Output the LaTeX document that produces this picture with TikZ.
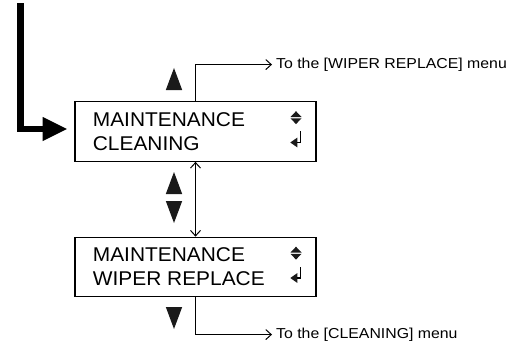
\documentclass[tikz,border=0pt]{standalone}
\usepackage{fontspec}
\setmainfont{Liberation Sans}
\newfontfamily\panelfont[FakeStretch=1.05]{Liberation Sans}
\newfontfamily\labelfont[FakeStretch=1.1]{Liberation Sans}
\usetikzlibrary{calc,arrows.meta,positioning}
\definecolor{KeyBlack}{HTML}{1A1A1A}

\begin{document}
\begin{tikzpicture}[x=1pt,y=-1pt,line cap=butt,line join=miter,
  menubox/.style={draw,line width=1.2pt,minimum width=241pt,minimum height=59.5pt,inner sep=0pt},
  panel/.style={anchor=base west,inner sep=0pt,font=\panelfont\fontsize{19.9}{24}\selectfont},
  tolabel/.style={anchor=base west,inner xsep=4pt,inner ysep=0pt,font=\labelfont\fontsize{14.4}{17}\selectfont},
  link/.style={line width=1pt,-{Straight Barb[length=5.5pt,width=10pt]}}]
  \useasboundingbox (0,0) rectangle (522,345);
  % menu boxes
  \node[menubox] (cln) at (195.5,131.5) {};
  \node[menubox] (wip) at (195.5,267) {};
  \node[panel] (cln1) at (92.7,126) {MAINTENANCE};
  \node[panel] (cln2) at (92.7,150) {CLEANING};
  \node[panel] (wip1) at (92.7,261.5) {MAINTENANCE};
  \node[panel] (wip2) at (92.7,285.5) {WIPER REPLACE};
  % up/down and enter marks
  \foreach \dy in {0,135.5}{
    \fill[KeyBlack] (290.5,117+\dy) -- (296,111.2+\dy) -- (301.5,117+\dy) -- cycle;
    \fill[KeyBlack] (290.5,118.3+\dy) -- (296,124.1+\dy) -- (301.5,118.3+\dy) -- cycle;
    \fill[KeyBlack] (290.3,142.5+\dy) -- (297.3,137.6+\dy) -- (297.3,147.4+\dy) -- cycle;
    \draw[line width=1.4pt] (296.5,142.5+\dy) -- (300.5,142.5+\dy) -- (300.5,131.3+\dy);
  }
  % key triangles
  \foreach \y in {68,172}{\fill[KeyBlack] (165.8,\y+22) -- (174,\y) -- (182.2,\y+22) -- cycle;}
  \foreach \y in {201,307}{\fill[KeyBlack] (165.8,\y) -- (174,\y+22) -- (182.2,\y) -- cycle;}
  % entry arrow
  \coordinate (entry) at (20.7,3.5);
  \draw[line width=6.6pt,-{Triangle[length=25pt,width=22pt]}] (entry) |- ($(cln.west)+(-6.7,-2.5)$);
  % links
  \node[tolabel] (towip) at (272,68.3) {To the [WIPER REPLACE] menu};
  \node[tolabel] (tocln) at (272,338.3) {To the [CLEANING] menu};
  \draw[link] (cln.north) |- (towip.west);
  \draw[link] (wip.south) |- (tocln.west);
  \draw[link,{Straight Barb[length=5.5pt,width=10pt]}-{Straight Barb[length=5.5pt,width=10pt]}] (cln.south) -- (wip.north);
\end{tikzpicture}
\end{document}
